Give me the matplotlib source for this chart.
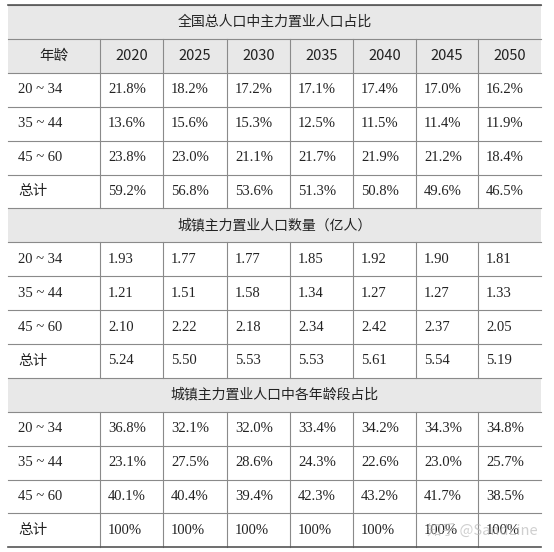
import matplotlib.pyplot as plt
from matplotlib.patches import Rectangle

years = ["2020", "2025", "2030", "2035", "2040", "2045", "2050"]
ages = ["20 ~ 34", "35 ~ 44", "45 ~ 60", "总计"]

share_total = [
    ["21.8%", "18.2%", "17.2%", "17.1%", "17.4%", "17.0%", "16.2%"],
    ["13.6%", "15.6%", "15.3%", "12.5%", "11.5%", "11.4%", "11.9%"],
    ["23.8%", "23.0%", "21.1%", "21.7%", "21.9%", "21.2%", "18.4%"],
    ["59.2%", "56.8%", "53.6%", "51.3%", "50.8%", "49.6%", "46.5%"],
]
urban_count = [
    ["1.93", "1.77", "1.77", "1.85", "1.92", "1.90", "1.81"],
    ["1.21", "1.51", "1.58", "1.34", "1.27", "1.27", "1.33"],
    ["2.10", "2.22", "2.18", "2.34", "2.42", "2.37", "2.05"],
    ["5.24", "5.50", "5.53", "5.53", "5.61", "5.54", "5.19"],
]
urban_share = [
    ["36.8%", "32.1%", "32.0%", "33.4%", "34.2%", "34.3%", "34.8%"],
    ["23.1%", "27.5%", "28.6%", "24.3%", "22.6%", "23.0%", "25.7%"],
    ["40.1%", "40.4%", "39.4%", "42.3%", "43.2%", "41.7%", "38.5%"],
    ["100%", "100%", "100%", "100%", "100%", "100%", "100%"],
]
sections = [
    ("全国总人口中主力置业人口占比", share_total),
    ("城镇主力置业人口数量（亿人）", urban_count),
    ("城镇主力置业人口中各年龄段占比", urban_share),
]

W, H = 554, 552
fig = plt.figure(figsize=(W / 100, H / 100), dpi=100)
ax = fig.add_axes([0, 0, 1, 1])
ax.set_xlim(0, W)
ax.set_ylim(H, 0)
ax.axis("off")

cjk = ["Noto Sans CJK SC", "DejaVu Sans"]
serif = ["Liberation Serif", "Noto Sans CJK SC"]
col_x = [8, 100, 163, 227, 290, 353, 416, 478, 541]
row_h = 33.9
top = 5
line_c = "#8a8a8a"
gray = "#e8e8e8"

rows = []
for si, (title, data) in enumerate(sections):
    rows.append(("title", title))
    if si == 0:
        rows.append(("years", None))
    for label, vals in zip(ages, data):
        rows.append(("data", (label, vals)))

y = top
for kind, content in rows:
    yc = y + row_h / 2
    if kind == "title":
        ax.add_patch(Rectangle((col_x[0], y), col_x[-1] - col_x[0], row_h, color=gray, lw=0))
        ax.text((col_x[0] + col_x[-1]) / 2, yc, content, family=cjk, fontsize=10,
                ha="center", va="center", color="#222")
    elif kind == "years":
        ax.add_patch(Rectangle((col_x[0], y), col_x[-1] - col_x[0], row_h, color=gray, lw=0))
        ax.text((col_x[0] + col_x[1]) / 2, yc, "年龄", family=cjk, fontsize=10.5,
                ha="center", va="center", color="#222")
        for i, yr in enumerate(years):
            ax.text((col_x[i + 1] + col_x[i + 2]) / 2, yc, yr, family=cjk, fontsize=10.5,
                    ha="center", va="center", color="#222")
        for x in col_x[1:-1]:
            ax.plot([x, x], [y, y + row_h], color=line_c, lw=0.8)
    else:
        label, vals = content
        fam = cjk if label == "总计" else serif
        ax.text(col_x[0] + 10, yc, label, family=fam, fontsize=10.5,
                ha="left", va="center", color="#222")
        for i, v in enumerate(vals):
            ax.text(col_x[i + 1] + 8, yc, v, family=serif, fontsize=10.5,
                    ha="left", va="center", color="#222")
        for x in col_x[1:-1]:
            ax.plot([x, x], [y, y + row_h], color=line_c, lw=0.8)
    ax.plot([col_x[0], col_x[-1]], [y, y], color=line_c, lw=0.8)
    y += row_h

ax.plot([col_x[0], col_x[-1]], [top, top], color="#555", lw=1.2)
ax.plot([col_x[0], col_x[-1]], [y, y], color="#555", lw=1.2)

# watermark
ax.text(538, 531, "知乎 @SandLine", family=cjk, fontsize=10.5, ha="right", va="center",
        color="#bbbbbb", alpha=0.7)

fig.savefig("out.png", dpi=100)
